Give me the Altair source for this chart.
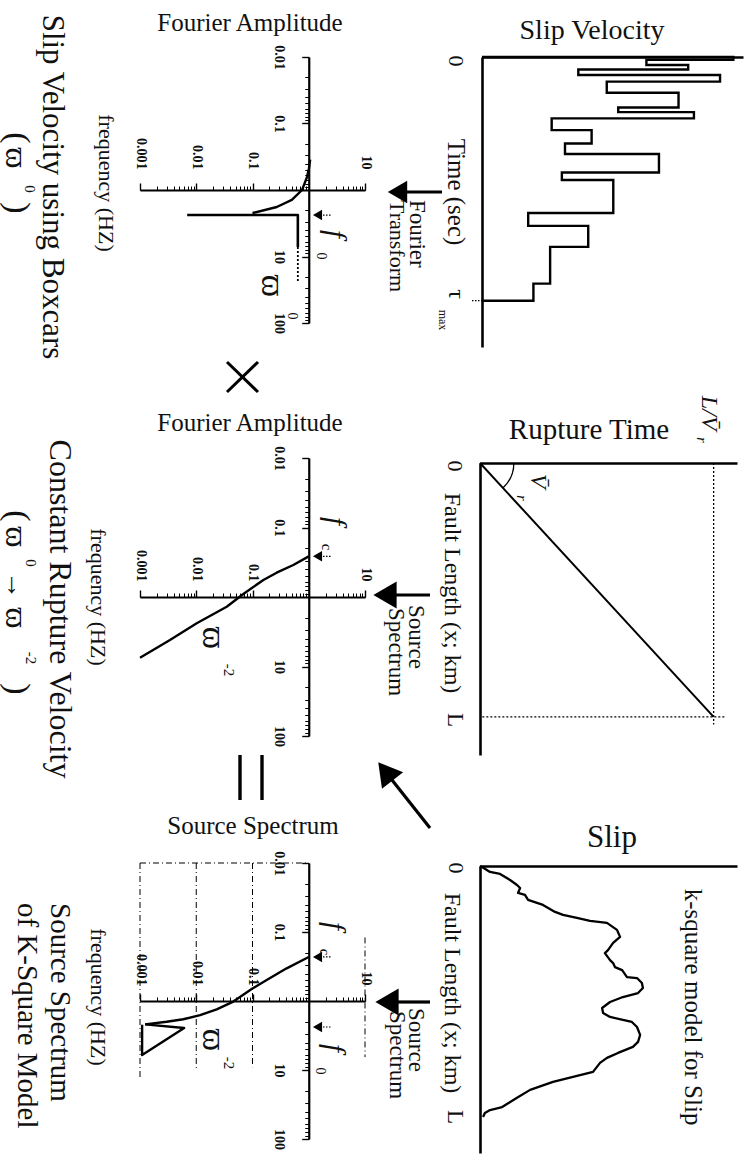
import math
import altair as alt
import pandas as pd

# ------------------------------------------------------------------ values
# Slip velocity built from boxcars: switching times (t / tau_max) and the
# relative slip-velocity level held until the next switch.
SV_TIMES = [0.0, 0.012, 0.033, 0.051, 0.074, 0.101, 0.147, 0.207, 0.226, 0.252,
            0.300, 0.355, 0.398, 0.474, 0.505, 0.640, 0.693, 0.779, 0.930, 1.0]
SV_LEVELS = [0.963, 0.630, 0.790, 0.369, 0.912, 0.478, 0.753, 0.522, 0.812, 0.267,
             0.420, 0.318, 0.678, 0.306, 0.503, 0.177, 0.407, 0.261, 0.197]

# Rupture time along the fault for a constant rupture velocity (x / L, t / (L / Vr))
RT_POS = [0.0, 1.0]
RT_TIME = [0.0, 1.0]

# k-square slip distribution along the fault (x / L, relative slip)
SLIP_POS = [0.0, 0.004, 0.024, 0.032, 0.056, 0.076, 0.088, 0.108, 0.116, 0.136, 0.156,
            0.184, 0.196, 0.208, 0.220, 0.228, 0.256, 0.284, 0.308, 0.337, 0.349,
            0.377, 0.389, 0.405, 0.417, 0.445, 0.449, 0.469, 0.489, 0.509, 0.525,
            0.545, 0.569, 0.589, 0.605, 0.617, 0.625, 0.645, 0.677, 0.705, 0.725,
            0.749, 0.769, 0.789, 0.825, 0.845, 0.865, 0.897, 0.929, 0.966, 0.978,
            0.990, 1.006]
SLIP_VAL = [0.0, 0.008, 0.039, 0.078, 0.117, 0.144, 0.156, 0.148, 0.175, 0.187, 0.245,
            0.292, 0.323, 0.377, 0.428, 0.494, 0.533, 0.545, 0.518, 0.498, 0.486,
            0.506, 0.518, 0.525, 0.553, 0.572, 0.611, 0.630, 0.634, 0.615, 0.556,
            0.506, 0.475, 0.479, 0.506, 0.556, 0.591, 0.611, 0.623, 0.615, 0.595,
            0.537, 0.494, 0.467, 0.440, 0.362, 0.284, 0.195, 0.144, 0.086, 0.039,
            0.019, 0.012]

# Corner frequencies (Hz)
F0 = 2.38
FC_RUPTURE = 0.26
FC_KSQ = 0.23

# Fourier amplitude of the boxcar slip velocity
BOX_SHOULDER_FREQ = [0.35, 0.47, 0.64, 1.0, 1.41, 1.80, 2.22]
BOX_SHOULDER_AMP = [1.06, 1.01, 0.93, 0.76, 0.50, 0.27, 0.10]
BOX_CUT_AMP = 0.0069
BOX_FLAT_AMP = 0.64
BOX_FLAT_END = 7.2
BOX_DOTTED_END = 25.0

# Source spectrum of the constant rupture velocity (omega^-2 fall-off)
RUP_FREQ = [FC_RUPTURE, 0.346, 0.447, 0.569, 0.906, 1.38, 2.39, 4.16, 7.47]
RUP_AMP = [1.0, 0.531, 0.269, 0.156, 0.0687, 0.0348, 0.0102, 0.00341, 0.001]

# Source spectrum of the k-square model
KSQ_FREQ = [FC_KSQ, 0.336, 0.496, 0.67, 1.02, 1.32, 1.60, 1.84, 2.0, 2.18]
KSQ_AMP = [1.0, 0.405, 0.179, 0.0968, 0.0456, 0.0231, 0.0117, 0.00589, 0.00298, 0.00123]
KSQ_TAIL_FREQ = [2.18, 2.46, 6.06, 2.2]
KSQ_TAIL_AMP = [0.00123, 0.0061, 0.00109, 0.00109]

# Guide lines of the k-square spectrum
GRID_AMP = [0.001, 0.01, 0.1, 10]
GRID_F_FROM = [0.01, 0.01, 0.01, 0.12]
GRID_F_TO = [13.9, 10.0, 9.1, 6.5]

# Tick labels of the log-log panels
FREQ_LABELS = [0.01, 0.1, 10, 100]
AMP_LABELS = [0.001, 0.01, 0.1, 10]

# ------------------------------------------------------------------ layout
W, H = 750, 1157
SERIF = "Liberation Serif, DejaVu Serif, serif"
INK = "#000000"
TXT = "#111111"

AMP_DOMAIN = [0.001, 10]
FREQ_DOMAIN = [0.01, 100]
AMP_RANGE = [140, 365]
BOX_RANGE = [57, 323]
RUP_RANGE = [458, 736]
KSQ_RANGE = [863, 1139]


def log_pixel(value, domain, rng):
    lo, hi = math.log10(domain[0]), math.log10(domain[1])
    return rng[0] + (math.log10(value) - lo) / (hi - lo) * (rng[1] - rng[0])


def decade_ticks(domain):
    lo, hi = round(math.log10(domain[0])), round(math.log10(domain[1]))
    vals = [m * 10.0 ** k for k in range(lo, hi) for m in range(1, 10)]
    vals.append(10.0 ** hi)
    return vals


AMP_MINOR = decade_ticks(AMP_DOMAIN)
FREQ_MINOR = decade_ticks(FREQ_DOMAIN)
FREQ_AXIS_X = log_pixel(1, AMP_DOMAIN, AMP_RANGE)

ONE = pd.DataFrame({"k": [0]})


def amp_x(axis=None, field="amp"):
    return alt.X(f"{field}:Q", axis=axis,
                 scale=alt.Scale(type="log", domain=AMP_DOMAIN, range=AMP_RANGE, nice=False))


def freq_y(rng, axis=None, field="freq"):
    return alt.Y(f"{field}:Q", axis=axis,
                 scale=alt.Scale(type="log", domain=FREQ_DOMAIN, range=rng, nice=False))


def note(text, x, y, size, angle=90, align="center", baseline="middle",
         style="normal", weight="normal"):
    return alt.Chart(pd.DataFrame({"label": [text]})).mark_text(
        font=SERIF, fontSize=size, angle=angle, align=align, baseline=baseline,
        fontStyle=style, fontWeight=weight, color=TXT
    ).encode(x=alt.value(x), y=alt.value(y), text="label:N")


def stroke(x1, y1, x2, y2, width=3.0, dash=None):
    kw = dict(strokeWidth=width, color=INK, strokeCap="butt")
    if dash:
        kw["strokeDash"] = dash
    return alt.Chart(ONE).mark_rule(**kw).encode(
        x=alt.value(x1), y=alt.value(y1), x2=alt.value(x2), y2=alt.value(y2))


def head(x, y, shape, size, angle=0):
    return alt.Chart(ONE).mark_point(
        shape=shape, size=size, filled=True, color=INK, opacity=1, angle=angle
    ).encode(x=alt.value(x), y=alt.value(y))


def frame_axis(orient, offset):
    return alt.Axis(orient=orient, offset=offset, ticks=False, labels=False,
                    domainWidth=2.6, domainColor=INK, grid=False, title=None)


def spectrum_line(amps, freqs, rng, width=2.4, dash=None, x_axis=None, y_axis=None):
    df = pd.DataFrame({"amp": amps, "freq": freqs, "i": list(range(len(amps)))})
    kw = dict(strokeWidth=width, color=INK, strokeJoin="round")
    if dash:
        kw["strokeDash"] = dash
    return alt.Chart(df).mark_line(**kw).encode(
        x=amp_x(x_axis), y=freq_y(rng, y_axis), order="i:Q")


def log_panel_axes(rng, amp_pad):
    """Major and minor ticks of one log-log panel, crossing at (1, 1)."""
    cross_y = log_pixel(1, FREQ_DOMAIN, rng)
    label_style = dict(labelAngle=90, labelFont=SERIF, labelFontSize=14,
                       labelFontWeight="bold", labelColor=TXT, labelOverlap=False,
                       labelFlush=False, labelBound=False, grid=False, title=None,
                       tickColor=INK, tickSize=7, tickWidth=1.4,
                       domainColor=INK, domainWidth=2.2, format="~g")
    x_major = alt.Axis(orient="top", offset=-cross_y, values=AMP_LABELS,
                       labelAlign="right", labelBaseline="middle",
                       labelPadding=amp_pad, **label_style)
    y_major = alt.Axis(orient="left", offset=-FREQ_AXIS_X, values=FREQ_LABELS,
                       labelAlign="center", labelBaseline="top",
                       labelPadding=16, **label_style)
    minor_style = dict(labels=False, domain=False, tickSize=4, tickWidth=1,
                       tickColor=INK, grid=False, title=None)
    x_minor = alt.Axis(orient="top", offset=-cross_y, values=AMP_MINOR, **minor_style)
    y_minor = alt.Axis(orient="left", offset=-FREQ_AXIS_X, values=FREQ_MINOR, **minor_style)
    anchor = pd.DataFrame({"amp": [1.0], "freq": [1.0]})
    major = alt.Chart(anchor).mark_point(opacity=0).encode(
        x=amp_x(x_major), y=freq_y(rng, y_major))
    minor = alt.Chart(anchor).mark_point(opacity=0).encode(
        x=amp_x(x_minor), y=freq_y(rng, y_minor))
    return [minor, major]


def corner_marker(freq, rng):
    df = pd.DataFrame({"freq": [freq]})
    tip = alt.Chart(df).mark_point(shape="triangle-left", size=110, filled=True,
                                   color=INK, opacity=1).encode(
        x=alt.value(317.5), y=freq_y(rng))
    tail = alt.Chart(df).mark_rule(strokeWidth=1.2, color=INK, strokeDash=[1.5, 1.5]).encode(
        x=alt.value(323), x2=alt.value(331), y=freq_y(rng))
    return [tip, tail]


layers = []

# ------------------------------------------------------------ slip velocity
sv_v = alt.Scale(domain=[0, 1], range=[482, 743], nice=False, zero=False)
sv_t = alt.Scale(domain=[0, 1.19], range=[57, 347], nice=False, zero=False)
sv_rows = [{"t": 0.0, "v": 0.0}]
for i, lvl in enumerate(SV_LEVELS):
    sv_rows.append({"t": SV_TIMES[i], "v": lvl})
    sv_rows.append({"t": SV_TIMES[i + 1], "v": lvl})
sv_rows.append({"t": SV_TIMES[-1], "v": 0.0})
sv_df = pd.DataFrame(sv_rows)
sv_df["i"] = range(len(sv_df))
layers.append(alt.Chart(sv_df).mark_line(strokeWidth=2.4, color=INK, strokeJoin="miter").encode(
    x=alt.X("v:Q", scale=sv_v, axis=frame_axis("top", -57)),
    y=alt.Y("t:Q", scale=sv_t, axis=frame_axis("left", -482)),
    order="i:Q"))
layers.append(alt.Chart(pd.DataFrame({"t": [SV_TIMES[-1]]})).mark_rule(
    strokeWidth=1.2, color=INK, strokeDash=[1.5, 1.5]).encode(
    x=alt.value(472), x2=alt.value(482), y=alt.Y("t:Q", scale=sv_t, axis=None)))
layers += [
    note("Slip Velocity", 592, 39, 28, angle=0, baseline="alphabetic"),
    note("0", 456, 61, 22),
    note("Time (sec)", 456, 192, 25),
    note("τ", 456, 294, 24),
    note("max", 443, 320, 12),
]

# Fourier transform arrow
layers += [
    stroke(442, 192, 400, 192, 3.2),
    head(397.5, 192, "triangle-left", 500),
    note("Fourier", 417, 200, 23, align="left"),
    note("Transform", 397, 200, 22, align="left"),
]

# ------------------------------------------------------------ rupture time
rt_t = alt.Scale(domain=[0, 1.1], range=[480, 737], nice=False, zero=False)
rt_p = alt.Scale(domain=[0, 1.15], range=[463, 755], nice=False, zero=False)
rt_df = pd.DataFrame({"t": RT_TIME, "p": RT_POS, "i": [0, 1]})
layers.append(alt.Chart(rt_df).mark_line(strokeWidth=2.0, color=INK).encode(
    x=alt.X("t:Q", scale=rt_t, axis=frame_axis("top", -463)),
    y=alt.Y("p:Q", scale=rt_p, axis=frame_axis("left", -480)),
    order="i:Q"))
layers.append(alt.Chart(pd.DataFrame({"t": [RT_TIME[-1]], "p0": [0.0], "p1": [1.03]})).mark_rule(
    strokeWidth=1.3, color=INK, strokeDash=[2, 2]).encode(
    x=alt.X("t:Q", scale=rt_t, axis=None),
    y=alt.Y("p0:Q", scale=rt_p, axis=None), y2="p1:Q"))
layers.append(alt.Chart(pd.DataFrame({"p": [RT_POS[-1]], "t0": [0.01], "t1": [1.05]})).mark_rule(
    strokeWidth=1.3, color=INK, strokeDash=[2, 2]).encode(
    y=alt.Y("p:Q", scale=rt_p, axis=None),
    x=alt.X("t0:Q", scale=rt_t, axis=None), x2="t1:Q"))
layers.append(alt.Chart(ONE).mark_arc(
    theta=math.pi / 2, theta2=math.pi / 2 + math.atan2(254, 233),
    radius=34.5, radius2=33.2, color=INK).encode(x=alt.value(480), y=alt.value(463)))
layers += [
    note("Rupture Time", 589, 439, 29, angle=0, baseline="alphabetic"),
    note("L/V\u0304", 709, 413, 24, style="italic"),
    note("r", 701, 440, 14, style="italic"),
    note("0", 455, 466, 22),
    note("Fault Length (x; km)", 452, 593, 24),
    note("L", 455, 720, 23),
    note("V\u0304", 538, 481, 24, style="italic"),
    note("r", 521, 498, 14, style="italic"),
]

# ------------------------------------------------------------ slip
sl_s = alt.Scale(domain=[0, 1], range=[480, 737], nice=False, zero=False)
sl_p = alt.Scale(domain=[0, 1.15], range=[866, 1153], nice=False, zero=False)
sl_df = pd.DataFrame({"s": SLIP_VAL, "p": SLIP_POS, "i": list(range(len(SLIP_POS)))})
layers.append(alt.Chart(sl_df).mark_line(strokeWidth=2.3, color=INK, strokeJoin="round").encode(
    x=alt.X("s:Q", scale=sl_s, axis=frame_axis("top", -866)),
    y=alt.Y("p:Q", scale=sl_p, axis=frame_axis("left", -480)),
    order="i:Q"))
layers += [
    note("Slip", 612, 847, 31, angle=0, baseline="alphabetic"),
    note("0", 456, 868, 22),
    note("Fault Length (x; km)", 452, 993, 24),
    note("L", 455, 1117, 23),
    note("k-square model for Slip", 693, 1007, 25),
]

# arrows towards the spectra
layers += [
    stroke(430, 595, 396, 595, 3.2),
    head(385, 595, "triangle-left", 720),
    note("Source", 416, 605, 23, align="left"),
    note("Spectrum", 396, 608, 23, align="left"),
    stroke(430, 1002, 398, 1002, 3.2),
    head(387, 1002, "triangle-left", 720),
    note("Source", 416, 1008, 23, align="left"),
    note("Spectrum", 397, 1011, 23, align="left"),
    stroke(430, 828, 392, 780, 3.2),
    head(385.4, 771.4, "triangle-up", 720, angle=322),
]

# ------------------------------------------------------------ boxcar spectrum
layers += log_panel_axes(BOX_RANGE, 14)
layers.append(spectrum_line(BOX_SHOULDER_AMP, BOX_SHOULDER_FREQ, BOX_RANGE))
layers.append(spectrum_line([BOX_CUT_AMP, BOX_FLAT_AMP, BOX_FLAT_AMP],
                            [F0, F0, BOX_FLAT_END], BOX_RANGE, width=2.6))
layers.append(spectrum_line([BOX_FLAT_AMP, BOX_FLAT_AMP], [BOX_FLAT_END, BOX_DOTTED_END],
                            BOX_RANGE, width=1.8, dash=[2, 2]))
layers += corner_marker(F0, BOX_RANGE)
layers += [
    note("Fourier Amplitude", 250, 31, 25, angle=0, baseline="alphabetic"),
    note("f", 335, 234, 29, style="italic"),
    note("0", 321, 256, 14),
    note("ϖ", 272, 286, 34),
    note("0", 292, 316, 14),
]

# multiplication sign
layers += [stroke(227, 362, 258, 392, 3.0), stroke(227, 392, 258, 362, 3.0)]

# ------------------------------------------------------------ rupture spectrum
layers += log_panel_axes(RUP_RANGE, 9)
layers.append(spectrum_line(RUP_AMP, RUP_FREQ, RUP_RANGE))
layers += corner_marker(FC_RUPTURE, RUP_RANGE)
layers += [
    note("Fourier Amplitude", 250, 431, 25, angle=0, baseline="alphabetic"),
    note("f", 335, 521, 29, style="italic"),
    note("c", 327, 547, 15),
    note("ϖ", 213, 638, 34),
    note("-2", 229, 670, 15),
]

# equals sign
layers += [stroke(240, 755, 240, 800, 3.4), stroke(262, 755, 262, 800, 3.4)]

# ------------------------------------------------------------ k-square spectrum
grid_df = pd.DataFrame({"amp": GRID_AMP, "freq": GRID_F_FROM, "freq2": GRID_F_TO})
layers.append(alt.Chart(grid_df).mark_rule(strokeWidth=1.0, color=INK, strokeDash=[6, 3, 1, 3]).encode(
    x=amp_x(), y=freq_y(KSQ_RANGE), y2="freq2:Q"))
layers.append(alt.Chart(pd.DataFrame({"amp": [AMP_DOMAIN[0]], "amp2": [1.0], "freq": [FREQ_DOMAIN[0]]}))
              .mark_rule(strokeWidth=1.0, color=INK, strokeDash=[6, 3, 1, 3]).encode(
    x=amp_x(), x2="amp2:Q", y=freq_y(KSQ_RANGE)))
layers += log_panel_axes(KSQ_RANGE, 9)
layers.append(spectrum_line(KSQ_AMP, KSQ_FREQ, KSQ_RANGE))
layers.append(spectrum_line(KSQ_TAIL_AMP, KSQ_TAIL_FREQ, KSQ_RANGE, width=2.4))
layers += corner_marker(FC_KSQ, KSQ_RANGE)
layers += corner_marker(F0, KSQ_RANGE)
layers += [
    note("Source Spectrum", 253, 834, 25, angle=0, baseline="alphabetic"),
    note("f", 334, 926, 29, style="italic"),
    note("c", 325, 952, 15),
    note("f", 334, 1048, 29, style="italic"),
    note("0", 320, 1071, 14),
    note("ϖ", 213, 1040, 34),
    note("-2", 229, 1063, 15),
]

# ------------------------------------------------------------ captions
layers += [
    note("frequency (HZ)", 106, 183, 22),
    note("Slip Velocity using Boxcars", 52, 187, 31),
    note("(", 17, 138, 34), note("ϖ", 16, 158, 32), note("0", 30, 189, 15), note(")", 17, 208, 34),
    note("frequency (HZ)", 98, 597, 22),
    note("Constant Rupture Velocity", 60, 609, 32),
    note("(", 17, 516, 34), note("ϖ", 16, 537, 32), note("0", 31, 563, 15),
    note("→", 15, 585, 28), note("ϖ", 16, 618, 32), note("-2", 31, 658, 15), note(")", 17, 689, 34),
    note("frequency (HZ)", 98, 997, 22),
    note("Source Spectrum", 60, 903, 29, align="left"),
    note("of K-Square Model", 27, 903, 29, align="left"),
]

chart = alt.layer(*layers).resolve_scale(
    x="independent", y="independent"
).resolve_axis(
    x="independent", y="independent"
).properties(
    width=W, height=H, padding=0, background="white",
    autosize=alt.AutoSizeParams(type="none")
).configure_view(strokeOpacity=0)

chart.save("out.html", embed_options={"renderer": "svg", "actions": False})
